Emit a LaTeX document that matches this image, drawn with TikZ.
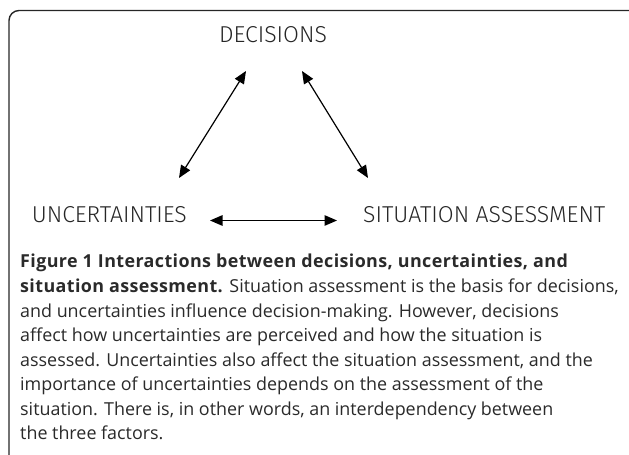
\documentclass[tikz,border=0pt]{standalone}
\usepackage{fontspec}
\setmainfont{Open Sans}[BoldFeatures={LetterSpace=2.2}]
\newfontfamily\labelfont{Fira Sans}[UprightFont=* Light]
\usetikzlibrary{arrows.meta}
\definecolor{captext}{HTML}{2A2A2A}
\tikzset{
  x=1pt, y=1pt,
  lbl/.style={font=\labelfont\fontsize{23}{27}\selectfont, text=black!85, inner sep=0pt},
  link/.style={line width=1.2pt, {Triangle[length=12.5pt,width=10.5pt]}-{Triangle[length=12.5pt,width=10.5pt]}},
  frame/.style={line width=1.4pt, draw=black!85, rounded corners=10pt}
}
\begin{document}
\begin{tikzpicture}
\useasboundingbox (0,0) rectangle (629,455);
\draw[frame] (9,-20) -- (9,444.5) -- (640,444.5) -- (640,-20);
\node[lbl] (dec) at (273,420) {DECISIONS};
\node[lbl, anchor=east] (unc) at (187,240) {UNCERTAINTIES};
\node[lbl, anchor=west] (sit) at (363,240) {SITUATION ASSESSMENT};
\coordinate (dl) at (246,384);
\coordinate (dr) at (302,384);
\coordinate (ul) at (179,277);
\coordinate (ur) at (210,234.5);
\coordinate (sl) at (337,234.5);
\coordinate (st) at (368,277);
\draw[link] (ul) -- (dl);
\draw[link] (dr) -- (st);
\draw[link] (ur) -- (sl);
\node[anchor=base west, align=left, inner sep=0pt, text=captext,
      font=\fontsize{17.9}{24.6}\selectfont] (cap) at (20,15)
 {\textbf{Figure 1 Interactions between decisions, uncertainties, and}\\
  \textbf{situation assessment.} Situation assessment is the basis for decisions,\\
  and uncertainties influence decision-making. However, decisions\\
  affect how uncertainties are perceived and how the situation is\\
  assessed. Uncertainties also affect the situation assessment, and the\\
  importance of uncertainties depends on the assessment of the\\
  situation. There is, in other words, an interdependency between\\
  the three factors.};
\end{tikzpicture}
\end{document}
